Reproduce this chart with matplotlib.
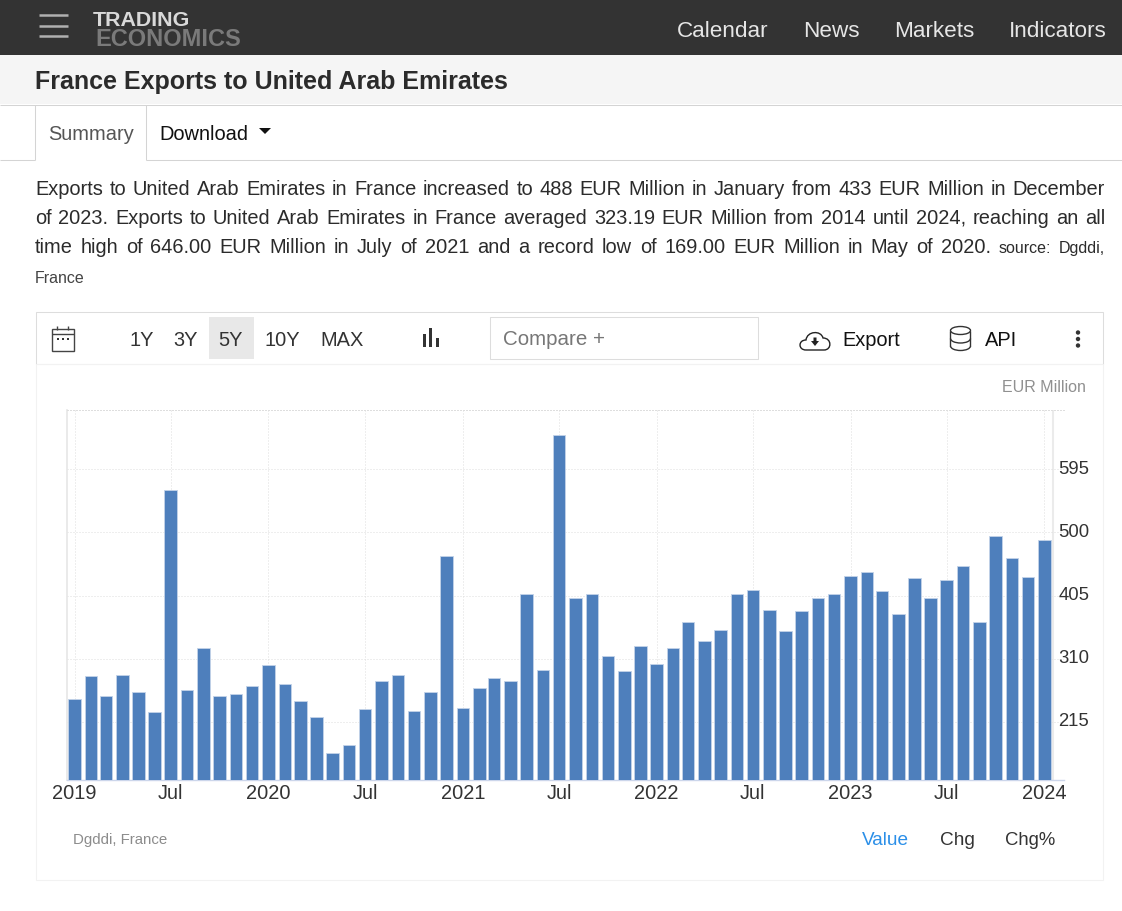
import numpy as np
import pandas as pd
import matplotlib
matplotlib.use('Agg')
import matplotlib.pyplot as plt
import matplotlib.dates as mdates
from matplotlib.patches import Rectangle, Ellipse, PathPatch, Polygon, Circle, Arc
from matplotlib.path import Path
from matplotlib.transforms import ScaledTranslation

plt.rcParams['font.family'] = ['Liberation Sans', 'DejaVu Sans']

# Data (EUR Million, Jan 2019 - Jan 2024)
values = [249, 284, 254, 286, 260, 230, 564, 264, 327, 254, 258, 270,
          301, 273, 247, 222, 169, 181, 234, 277, 286, 232, 260, 464,
          236, 267, 282, 277, 408, 294, 646, 402, 408, 314, 292, 329,
          303, 327, 365, 337, 354, 408, 414, 384, 352, 382, 402, 408,
          434, 440, 412, 378, 431, 402, 429, 449, 365, 494, 462, 433,
          488]
months = pd.date_range('2019-01-01', periods=len(values), freq='MS')
y_ticks = [215, 310, 405, 500, 595]
x_tick_dates = ['2019-01-01', '2019-07-01', '2020-01-01', '2020-07-01', '2021-01-01',
                '2021-07-01', '2022-01-01', '2022-07-01', '2023-01-01', '2023-07-01',
                '2024-01-01']
x_tick_labels = ['2019', 'Jul', '2020', 'Jul', '2021', 'Jul', '2022', 'Jul', '2023', 'Jul', '2024']
nav_items = [('Calendar', 677), ('News', 803), ('Markets', 894), ('Indicators', 1009)]
range_items = [('1Y', 142), ('3Y', 186), ('5Y', 231), ('10Y', 282), ('MAX', 342)]
para_lines = ['Exports to United Arab Emirates in France increased to 488 EUR Million in January from 433 EUR Million in December',
              'of 2023. Exports to United Arab Emirates in France averaged 323.19 EUR Million from 2014 until 2024, reaching an all',
              'time high of 646.00 EUR Million in July of 2021 and a record low of 169.00 EUR Million in May of 2020.']

W, H = 1122, 912
BAR = '#4e7fbc'


def pt(px):
    return px * 0.72


fig = plt.figure(figsize=(W / 100, H / 100), dpi=100, facecolor='white')

# page layer in pixel coordinates
bg = fig.add_axes([0, 0, 1, 1])
bg.set_xlim(0, W)
bg.set_ylim(H, 0)
bg.axis('off')


def txt(x, y, s, size, color='#333333', **kw):
    return bg.text(x, y, s, fontsize=pt(size), color=color, va='baseline', **kw)


def rect(x0, y0, x1, y1, fc='none', ec='none', lw=0.75, **kw):
    bg.add_patch(Rectangle((x0, y0), x1 - x0, y1 - y0, facecolor=fc, edgecolor=ec, linewidth=lw, **kw))


def hline(x0, x1, y, color='#d4d4d4', lw=0.75):
    bg.plot([x0, x1], [y, y], color=color, lw=lw, solid_capstyle='butt')


def vline(x, y0, y1, color='#d4d4d4', lw=0.75):
    bg.plot([x, x], [y0, y1], color=color, lw=lw, solid_capstyle='butt')


def justified(x0, x1, y, segments):
    # segments: (text, font px) - spread the words so they fill the line
    renderer = fig.canvas.get_renderer()
    words = [(w, size) for s, size in segments for w in s.split()]
    items = [txt(x0, y, w, size, color='#2b2b2b') for w, size in words]
    widths = [t.get_window_extent(renderer).width for t in items]
    gap = (x1 - x0 - sum(widths)) / (len(items) - 1)
    x = x0
    for t, w in zip(items, widths):
        t.set_x(x)
        x += w + gap


# header
rect(0, 0, W, 56, fc='#333333')
for y in (16, 26.5, 37):
    hline(39, 68, y, color='#b0b0b0', lw=1.8)
txt(93, 26.5, 'TRADING', 21.4, color='#d9d9d9', fontweight='bold')
txt(95.5, 45.5, 'ECONOMICS', 23.6, color='#7a7a7a', fontweight='bold')
for name, x in nav_items:
    txt(x, 37, name, 22.5, color='#e6e6e6')

# title strip
rect(0, 56, W, 105, fc='#f5f5f5')
hline(0, W, 105.5)
txt(35, 89, 'France Exports to United Arab Emirates', 25, color='#2b2b2b', fontweight='bold')

# tabs
hline(0, 35, 160.5)
hline(146, W, 160.5)
vline(35.5, 106, 161)
vline(146.5, 106, 161)
txt(48, 140, 'Summary', 20, color='#555555')
txt(159.5, 140, 'Download', 20, color='#111111')
bg.add_patch(Polygon([(259, 129), (271, 129), (265, 135)], closed=True, fc='#111111', ec='none'))

# paragraph
justified(35, 1105, 195, [(para_lines[0], 20)])
justified(35, 1105, 224, [(para_lines[1], 20)])
justified(35, 1105, 253, [(para_lines[2], 20), ('source: Dgddi,', 16)])
txt(35, 283, 'France', 16, color='#444444')

# toolbar
rect(36.5, 312.5, 1103, 364.5, ec='#dddddd')
rect(36.5, 364.5, 1103, 881.5, ec='#f2f2f2')
rect(209, 318, 254, 360, fc='#e8e8e8')
for name, x in range_items:
    txt(x, 346, name, 20, ha='center')

# calendar icon
bg.add_patch(Rectangle((52, 330), 22, 22, fc='none', ec='#444444', lw=1))
hline(52, 74, 334.5, color='#444444', lw=1)
vline(57.5, 327, 331, color='#444444', lw=1)
vline(68.5, 327, 331, color='#444444', lw=1)
for x in (58, 63, 68):
    bg.add_patch(Rectangle((x - 1, 338.5), 2, 2, fc='#333333', ec='none'))

# small bars icon
rect(423, 335, 426, 348, fc='#333333')
rect(429.5, 329, 432.5, 348, fc='#333333')
rect(436.5, 339, 439.5, 348, fc='#333333')

# compare box
rect(490.5, 317.5, 758, 360, ec='#dddddd')
txt(503, 345, 'Compare +', 20.5, color='#777777')

# cloud icon
cloud = Path([(806, 351), (798, 351), (798, 341), (806, 341),
              (807, 332), (821, 331), (823, 339),
              (832, 339), (832, 351), (824, 351), (806, 351)],
             [Path.MOVETO, Path.CURVE4, Path.CURVE4, Path.CURVE4,
              Path.CURVE4, Path.CURVE4, Path.CURVE4,
              Path.CURVE4, Path.CURVE4, Path.CURVE4, Path.LINETO])
bg.add_patch(PathPatch(cloud, fc='none', ec='#222222', lw=1))
bg.add_patch(Polygon([(811, 342), (813.5, 342), (813.5, 338.5), (816.5, 338.5), (816.5, 342),
                      (819, 342), (815, 347)], closed=True, fc='#222222', ec='none'))
txt(842, 346, 'Export', 20, color='#111111')

# database icon
bg.add_patch(Ellipse((960.5, 331.5), 20, 8, fc='none', ec='#333333', lw=1))
for y in (339.5, 347):
    bg.add_patch(Arc((960.5, y), 20, 9, theta1=0, theta2=180, ec='#333333', lw=1))
vline(950.5, 331.5, 347, color='#333333', lw=1)
vline(970.5, 331.5, 347, color='#333333', lw=1)
txt(985, 346, 'API', 20, color='#111111')

# menu dots
for y in (333.5, 340, 346.5):
    bg.add_patch(Circle((1078, y), 2.2, fc='#333333', ec='none'))

# captions around the chart
txt(1086, 392, 'EUR Million', 16, color='#909090', ha='right')
txt(73, 844, 'Dgddi, France', 15, color='#8c8c8c')
txt(862, 845, 'Value', 19, color='#2b8fe8')
txt(940, 845, 'Chg', 19, color='#333333')
txt(1005, 845, 'Chg%', 18.5, color='#333333')

# vertical end line of the plot
vline(1052.7, 411, 781, color='#ebebeb', lw=1.5)

# chart axes
left, right, top, bottom = 66.5, 1064, 411.3, 780.7
ax = fig.add_axes([left / W, 1 - bottom / H, (right - left) / W, (bottom - top) / H])
ax.patch.set_alpha(0)

dates = mdates.date2num(months)
start = mdates.date2num(pd.Timestamp('2019-01-01'))
px_per_day = 0.5312
ax.bar(dates, values, width=12.6 / px_per_day, color=BAR, edgecolor='#c3d3e8', linewidth=0.6, zorder=3)

ax.set_xlim(start - (74.5 - left) / px_per_day, start + (right - 74.5) / px_per_day)
ax.set_ylim(128.5, 683.5)

ax.set_yticks(y_ticks)
ax.yaxis.tick_right()
ax.set_xticks(mdates.date2num(pd.to_datetime(x_tick_dates)))
ax.set_xticklabels(x_tick_labels)
ax.tick_params(axis='x', length=0, pad=2.5, labelsize=pt(20), labelcolor='#333333')
ax.tick_params(axis='y', length=0, pad=-4.2, labelsize=pt(18.5), labelcolor='#333333')
shift = ScaledTranslation(0, 3.2 / 100, fig.dpi_scale_trans)
for label in ax.get_yticklabels():
    label.set_transform(label.get_transform() + shift)

# fine dots, about 1px on and 2px off
ax.grid(True, color='#dedede', linestyle=(0, (1, 2)), linewidth=0.72, zorder=0)
ax.set_axisbelow(True)

ax.spines['right'].set_visible(False)
ax.spines['top'].set_color('#dedede')
ax.spines['top'].set_linestyle((0, (1, 2)))
ax.spines['top'].set_linewidth(0.72)
ax.spines['left'].set_color('#e6e6e6')
ax.spines['left'].set_linewidth(1.2)
ax.spines['bottom'].set_color('#ccd6eb')
ax.spines['bottom'].set_linewidth(1)

fig.savefig('out.png', dpi=100, facecolor='white')
